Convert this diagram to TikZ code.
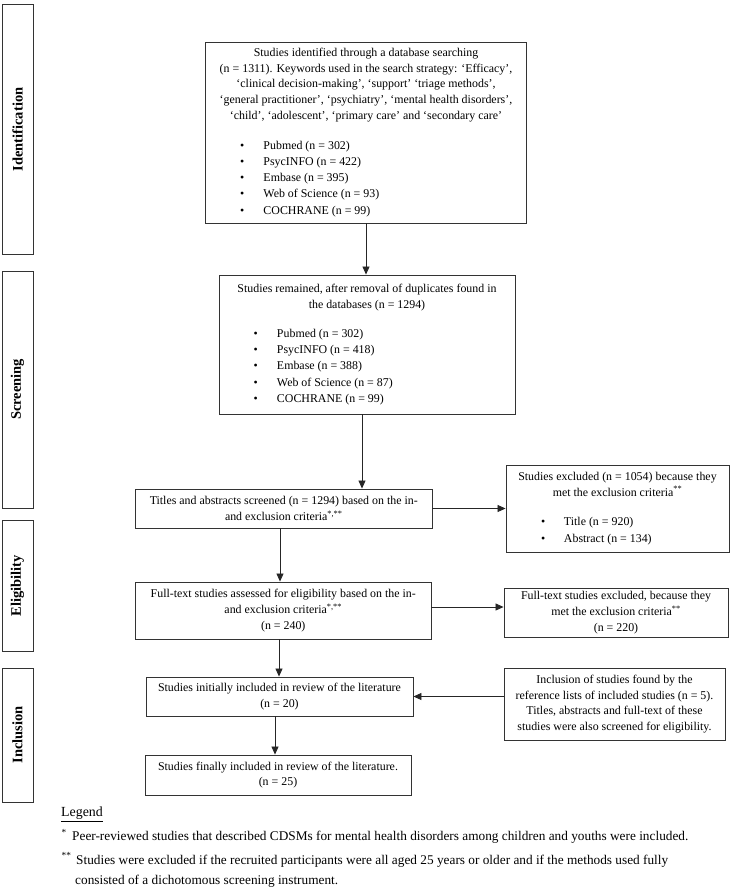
\documentclass[tikz,border=0pt]{standalone}
\usepackage{fontspec}
\setmainfont{Liberation Serif}
\usetikzlibrary{arrows.meta}
\newcommand\mybul[3]{\makebox[#1][l]{\makebox[#2][l]{\textbullet}#3}}
\begin{document}
\begin{tikzpicture}[x=1pt,y=-1pt,
  box/.style={draw=black!80, line width=0.9pt, align=center, inner sep=0pt, font=\fontsize{11.9}{15.7}\selectfont},
  side/.style={draw=black!80, line width=1pt, rotate=90, inner sep=0pt, font=\fontsize{14.5}{16}\selectfont\bfseries},
  arr/.style={draw=black!85, line width=0.8pt, -{Triangle[length=8pt,width=7pt]}},
  note/.style={inner sep=0pt, anchor=base west, font=\fontsize{13.3}{16}\selectfont}]
\useasboundingbox (0,0) rectangle (730,893);
% phase labels
\node[side, minimum width=249pt, minimum height=31pt] (idlab) at (17.5,129.5) {Identification};
\node[side, minimum width=237pt, minimum height=31pt] (scrlab) at (17.5,389.5) {Screening};
\node[side, minimum width=131pt, minimum height=31pt] (elilab) at (17.5,586) {Eligibility};
\node[side, minimum width=134pt, minimum height=31pt] (inclab) at (17.5,735) {Inclusion};
% boxes
\node[box, minimum width=321pt, minimum height=181pt] (b1) at (366,132.5) {Studies identified through a database searching\\ (n = 1311). Keywords used in the search strategy: ‘Efficacy’,\\ ‘clinical decision-making’, ‘support’ ‘triage methods’,\\ ‘general practitioner’, ‘psychiatry’, ‘mental health disorders’,\\ ‘child’, ‘adolescent’, ‘primary care’ and ‘secondary care’\\[14pt]
\mybul{252pt}{23.5pt}{Pubmed (n = 302)}\\[0.6pt]
\mybul{252pt}{23.5pt}{PsycINFO (n = 422)}\\[0.6pt]
\mybul{252pt}{23.5pt}{Embase (n = 395)}\\[0.6pt]
\mybul{252pt}{23.5pt}{Web of Science (n = 93)}\\[0.6pt]
\mybul{252pt}{23.5pt}{COCHRANE (n = 99)}};
\node[box, minimum width=296pt, minimum height=139pt] (b2) at (367,344.5) {Studies remained, after removal of duplicates found in\\ the databases (n = 1294)\\[13.6pt]
\mybul{226.6pt}{23.3pt}{Pubmed (n = 302)}\\[0.6pt]
\mybul{226.6pt}{23.3pt}{PsycINFO (n = 418)}\\[0.6pt]
\mybul{226.6pt}{23.3pt}{Embase (n = 388)}\\[0.6pt]
\mybul{226.6pt}{23.3pt}{Web of Science (n = 87)}\\[0.6pt]
\mybul{226.6pt}{23.3pt}{COCHRANE (n = 99)}};
\node[box, minimum width=296.5pt, minimum height=39pt] (b3) at (283.75,508.5) {Titles and abstracts screened (n = 1294) based on the in-\\ and exclusion criteria\textsuperscript{*,**}};
\node[box, minimum width=223pt, minimum height=87pt] (b3x) at (617.5,508.5) {Studies excluded (n = 1054) because they\\ met the exclusion criteria\textsuperscript{**}\\[14pt]
\mybul{153pt}{23pt}{Title (n = 920)}\\[0.6pt]
\mybul{153pt}{23pt}{Abstract (n = 134)}};
\node[box, minimum width=295.5pt, minimum height=57pt] (b4) at (283.25,610.5) {Full-text studies assessed for eligibility based on the in-\\ and exclusion criteria\textsuperscript{*,**}\\ (n = 240)};
\node[box, minimum width=224pt, minimum height=49pt] (b4x) at (616,612.5) {Full-text studies excluded, because they\\ met the exclusion criteria\textsuperscript{**}\\ (n = 220)};
\node[box, minimum width=267pt, minimum height=39pt] (b5) at (279.5,696.5) {Studies initially included in review of the literature\\ (n = 20)};
\node[box, minimum width=221pt, minimum height=72pt] (b5x) at (614.5,704) {Inclusion of studies found by the\\ reference lists of included studies (n = 5).\\ Titles, abstracts and full-text of these\\ studies were also screened for eligibility.};
\node[box, minimum width=266pt, minimum height=40pt] (b6) at (278,775) {Studies finally included in review of the literature.\\ (n = 25)};
% connectors
\draw[arr] (b1.south) -- (b1.south |- b2.north);
\draw[arr] ([xshift=-5pt]b2.south) -- ([xshift=-5pt]b2.south |- b3.north);
\draw[arr] (b3.east) -- (b3.east -| b3x.west);
\draw[arr] ([xshift=-3.75pt]b3.south) -- ([xshift=-3.75pt]b3.south |- b4.north);
\draw[arr] ([yshift=3.5pt]b4.east) -- ([yshift=3.5pt]b4.east -| b4x.west);
\draw[arr] ([xshift=-4.25pt]b4.south) -- ([xshift=-4.25pt]b4.south |- b5.north);
\draw[arr] (b5x.west |- b5.east) -- (b5.east);
\draw[arr] ([xshift=-4.5pt]b5.south) -- ([xshift=-4.5pt]b5.south |- b6.north);
% legend
\node[note, font=\fontsize{13.9}{16}\selectfont] (leg) at (61,816.7) {\underline{Legend}};
\node[note] (fn1) at (61.5,840.7) {\makebox[10.5pt][l]{\textsuperscript{*}}Peer-reviewed studies that described CDSMs for mental health disorders among children and youths were included.};
\node[note] (fn2) at (61.5,864) {\makebox[14.5pt][l]{\textsuperscript{**}}Studies were excluded if the recruited participants were all aged 25 years or older and if the methods used fully};
\node[note] (fn3) at (75,884.3) {consisted of a dichotomous screening instrument.};
\end{tikzpicture}
\end{document}
